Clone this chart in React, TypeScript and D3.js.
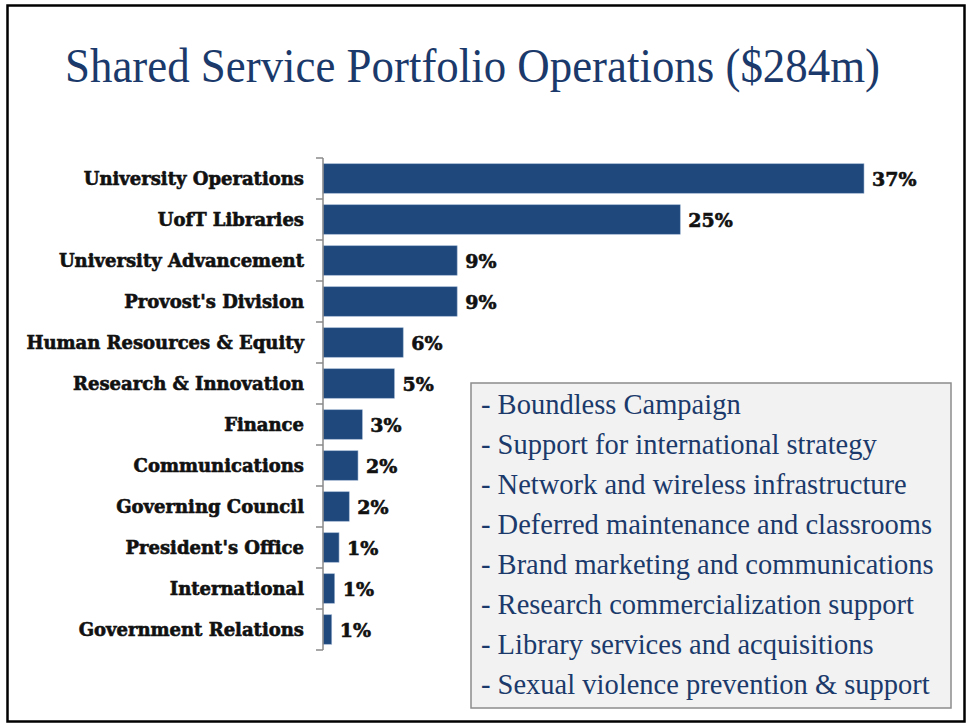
import React from 'react';
import * as d3 from 'd3';

const categories = [
  'University Operations',
  'UofT Libraries',
  'University Advancement',
  "Provost's Division",
  'Human Resources & Equity',
  'Research & Innovation',
  'Finance',
  'Communications',
  'Governing Council',
  "President's Office",
  'International',
  'Government Relations',
];

// share of the $284m budget, in percent
const shares = [37.1, 24.5, 9.2, 9.2, 5.5, 4.9, 2.7, 2.4, 1.8, 1.1, 0.8, 0.6];

const notes = [
  '- Boundless Campaign',
  '- Support for international strategy',
  '- Network and wireless infrastructure',
  '- Deferred maintenance and classrooms',
  '- Brand marketing and communications',
  '- Research commercialization support',
  '- Library services and acquisitions',
  '- Sexual violence prevention & support',
];

const title = 'Shared Service Portfolio Operations ($284m)';

const W = 969;
const H = 723;
const axisX = 323;
const top = 158;
const bottom = 650;

const navy = '#1B3A6B';
const barFill = '#1F497D';

export default function App() {
  const y = d3
    .scaleBand<string>()
    .domain(categories)
    .range([top, bottom])
    .paddingInner(0.28)
    .paddingOuter(0.14);

  const x = d3
    .scaleLinear()
    .domain([0, d3.max(shares) as number])
    .range([axisX, 864]);

  const step = y.step();
  const tickYs = d3.range(categories.length + 1).map((i) => top + i * step);

  const labelFont = '"DejaVu Serif", serif';

  return (
    <svg
      width={W}
      height={H}
      viewBox={`0 0 ${W} ${H}`}
      style={{ position: 'absolute', left: 0, top: 0, background: '#fff' }}
    >
      <rect x={0} y={0} width={W} height={H} fill="#fff" />
      <rect x={7.5} y={5.5} width={957} height={716} fill="none" stroke="#000" strokeWidth={2.5} />

      <text
        x={65}
        y={82}
        fontFamily='"Liberation Serif", serif'
        fontSize={48}
        fill={navy}
        textLength={815}
        lengthAdjust="spacingAndGlyphs"
      >
        {title}
      </text>

      {/* bars */}
      {categories.map((c, i) => (
        <rect
          key={c}
          x={axisX}
          y={y(c)}
          width={x(shares[i]) - axisX}
          height={y.bandwidth()}
          fill={barFill}
          stroke="#9DB3CF"
          strokeWidth={0.6}
        />
      ))}

      {/* axis */}
      <line x1={axisX} x2={axisX} y1={top} y2={bottom} stroke="#8A8A8A" strokeWidth={1.5} />
      {tickYs.map((t, i) => (
        <line key={i} x1={axisX - 7} x2={axisX} y1={t} y2={t} stroke="#8A8A8A" strokeWidth={1.5} />
      ))}

      {/* category labels */}
      {categories.map((c) => (
        <text
          key={c}
          x={304}
          y={(y(c) as number) + y.bandwidth() / 2}
          dy="0.36em"
          textAnchor="end"
          fontFamily={labelFont}
          fontWeight="bold"
          fontSize={18}
          fill="#111"
          stroke="#111"
          strokeWidth={0.6}
        >
          {c}
        </text>
      ))}

      {/* value labels */}
      {categories.map((c, i) => (
        <text
          key={c}
          x={x(shares[i]) + 8}
          y={(y(c) as number) + y.bandwidth() / 2}
          dy="0.38em"
          fontFamily={labelFont}
          fontWeight="bold"
          fontSize={19}
          fill="#111"
          stroke="#111"
          strokeWidth={0.6}
        >
          {`${Math.round(shares[i])}%`}
        </text>
      ))}

      {/* notes box */}
      <rect x={471} y={383} width={480} height={325} fill="#F2F2F2" stroke="#8C8C8C" strokeWidth={1.5} />
      {notes.map((n, i) => (
        <text
          key={n}
          x={481}
          y={414 + i * 40}
          fontFamily='"Liberation Serif", serif'
          fontSize={28.5}
          fill={navy}
        >
          {n}
        </text>
      ))}
    </svg>
  );
}
